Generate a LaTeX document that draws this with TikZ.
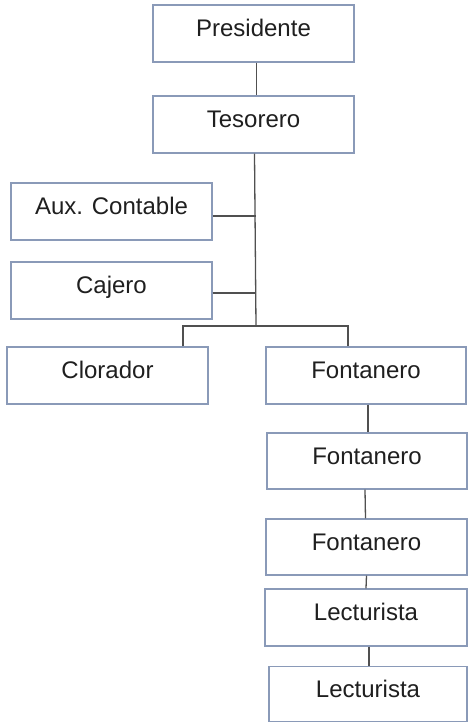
\documentclass[tikz,border=0pt]{standalone}
\usepackage{fontspec}
\setmainfont{Liberation Sans}
\begin{document}
\begin{tikzpicture}[x=1pt,y=-1pt,
  box/.style={draw=boxc, line width=1.4pt, fill=white, minimum width=201pt, minimum height=57pt,
    inner sep=0pt, text height=16pt, text depth=9.6pt, font=\fontsize{24}{28}\selectfont, text=black!88},
  conn/.style={draw=linec, line width=1.3pt}]
\definecolor{boxc}{HTML}{8A9AB8}
\definecolor{linec}{HTML}{505050}
\useasboundingbox (0,0) rectangle (468,723);
\node[box] (P) at (253.5,33.5) {Presidente};
\node[box] (T) at (253.5,124.5) {Tesorero};
\node[box] (A) at (111.5,211.5) {Aux. Contable};
\node[box] (C) at (111.5,290.5) {Cajero};
\node[box] (Cl) at (107.5,375.5) {Clorador};
\node[box, minimum width=200pt] (F1) at (366,375.5) {Fontanero};
\node[box, minimum width=200pt, minimum height=56pt] (F2) at (367,461) {Fontanero};
\node[box, minimum width=201pt, minimum height=56pt] (F3) at (366.5,547) {Fontanero};
\node[box, minimum width=202pt] (L1) at (366,617.5) {Lecturista};
\node[box, minimum width=198pt, minimum height=55pt] (L2) at (368,694) {Lecturista};
\coordinate (bus) at (256,326);
\coordinate (bl) at (183,326);
\coordinate (br) at (348,326);
\draw[conn] ([xshift=3pt]P.south) -- ([xshift=3pt]T.north);
\draw[conn] ([xshift=1pt]T.south) -- (bus);
\draw[conn] ([yshift=-4.5pt]A.east) -- ([yshift=-4.5pt]A.east -| bus);
\draw[conn] ([yshift=-2.5pt]C.east) -- ([yshift=-2.5pt]C.east -| bus);
\draw[conn] (bl |- Cl.north) -- (bl) -- (br) -- (br |- F1.north);
\draw[conn] ([xshift=2pt]F1.south) -- ([xshift=1pt]F2.north);
\draw[conn] ([xshift=-2pt]F2.south) -- ([xshift=-1pt]F3.north);
\draw[conn] (F3.south) -- (L1.north);
\draw[conn] ([xshift=3pt]L1.south) -- ([xshift=1pt]L2.north);
\end{tikzpicture}
\end{document}
